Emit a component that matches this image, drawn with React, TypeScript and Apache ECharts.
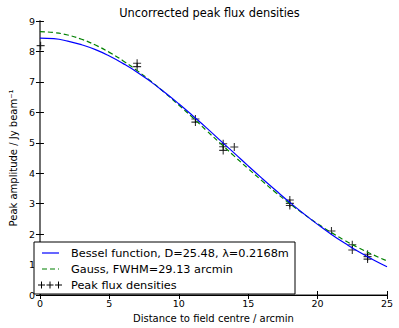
import React, { useEffect, useRef } from "react";
import * as echarts from "echarts";

const distances = [0,1,2,3,4,5,6,7,8,9,10,11,12,13,14,15,16,17,18,19,20,21,22,23,24,25];
const besselValues = [8.44,8.42,8.34,8.22,8.06,7.85,7.60,7.32,7.00,6.65,6.28,5.89,5.49,5.07,4.66,4.24,3.83,3.43,3.04,2.67,2.32,1.99,1.69,1.41,1.16,0.93];
const gaussValues = [8.65,8.62,8.54,8.40,8.21,7.97,7.69,7.37,7.02,6.64,6.24,5.83,5.40,4.98,4.56,4.15,3.75,3.36,3.00,2.66,2.34,2.05,1.78,1.54,1.32,1.12];
const peakX = [0.05,7.0,7.0,11.2,11.2,13.2,13.2,13.2,14.0,18.0,18.0,18.0,21.0,22.5,22.5,23.6,23.6,23.6];
const peakY = [8.19,7.61,7.50,5.78,5.68,4.97,4.87,4.75,4.86,3.12,3.01,2.94,2.10,1.65,1.48,1.34,1.26,1.18];
const xTicks = [0,5,10,15,20,25];
const yTicks = [0,1,2,3,4,5,6,7,8,9];

const titleText = "Uncorrected peak flux densities";
const legendLabels = ["Bessel function, D=25.48, λ=0.2168m", "Gauss, FWHM=29.13 arcmin", "Peak flux densities"];

const FONT = "DejaVu Sans";
const CROSS = "path://M0,5L10,5M5,0L5,10";
const SPINE = "#6a6a6a";

export default function App() {
  const ref = useRef<HTMLDivElement>(null);
  useEffect(() => {
    const chart = echarts.init(ref.current!, null, { renderer: "svg" });
    const cross = (cx: number, cy: number, s: number) => [
      { type: "line", shape: { x1: cx - s, y1: cy, x2: cx + s, y2: cy }, style: { stroke: "#000", lineWidth: 1 } },
      { type: "line", shape: { x1: cx, y1: cy - s, x2: cx, y2: cy + s }, style: { stroke: "#000", lineWidth: 1 } },
    ];
    const lx = 34, ly = 242;
    chart.setOption({
      animation: false,
      backgroundColor: "#fff",
      textStyle: { fontFamily: FONT },
      grid: { left: 32, right: 12, top: 21, bottom: 28, show: false },
      xAxis: [
        {
          type: "value", min: xTicks[0], max: xTicks[xTicks.length - 1], interval: 5,
          name: "Distance to field centre / arcmin", nameLocation: "middle", nameGap: 18,
          nameTextStyle: { fontSize: 10, color: "#000", fontFamily: FONT },
          axisLine: { show: true, lineStyle: { color: SPINE, width: 1.6 } },
          axisTick: { inside: true, length: 4, lineStyle: { color: "#000" } },
          axisLabel: { fontSize: 9.5, color: "#000", margin: 3, fontFamily: FONT },
          splitLine: { show: false },
        },
        {
          type: "value", position: "top", min: 0, max: 25, interval: 5,
          axisLine: { show: true, lineStyle: { color: "#000", width: 1 } },
          axisTick: { inside: true, length: 4, lineStyle: { color: "#000" } },
          axisLabel: { show: false }, splitLine: { show: false },
        },
      ],
      yAxis: [
        {
          type: "value", min: yTicks[0], max: yTicks[yTicks.length - 1], interval: 1,
          name: "Peak amplitude / Jy beam⁻¹", nameLocation: "middle", nameGap: 16,
          nameTextStyle: { fontSize: 10, color: "#000", fontFamily: FONT },
          axisLine: { show: true, lineStyle: { color: SPINE, width: 1.6 } },
          axisTick: { inside: true, length: 4, lineStyle: { color: "#000" } },
          axisLabel: { fontSize: 9.5, color: "#000", margin: 5, fontFamily: FONT },
          splitLine: { show: false },
        },
        {
          type: "value", position: "right", min: 0, max: 9, interval: 1,
          axisLine: { show: true, lineStyle: { color: SPINE, width: 1.6 } },
          axisTick: { inside: true, length: 4, lineStyle: { color: "#000" } },
          axisLabel: { show: false }, splitLine: { show: false },
        },
      ],
      series: [
        {
          type: "line", name: legendLabels[1], symbol: "none", smooth: true,
          data: distances.map((d, i) => [d, gaussValues[i]]),
          lineStyle: { color: "#008000", width: 1.2, type: [5, 3] },
        },
        {
          type: "line", name: legendLabels[0], symbol: "none", smooth: true,
          data: distances.map((d, i) => [d, besselValues[i]]),
          lineStyle: { color: "#0000ff", width: 1.2 },
        },
        {
          type: "scatter", name: legendLabels[2], symbol: CROSS, symbolSize: 8,
          data: peakX.map((x, i) => [x, peakY[i]]),
          itemStyle: { color: "none", borderColor: "#000", borderWidth: 1.1 },
          clip: false,
        },
      ],
      graphic: [
        { type: "text", x: 209.5, y: 13, style: { text: titleText, font: `11.4px ${FONT}`, fill: "#000", textAlign: "center", textVerticalAlign: "middle" } },
        { type: "rect", shape: { x: lx, y: ly, width: 261, height: 52 }, style: { fill: "#fff", stroke: "#000", lineWidth: 1 }, z: 100 },
        { type: "line", shape: { x1: 42, y1: 253, x2: 59, y2: 253 }, style: { stroke: "#0000ff", lineWidth: 1.2 }, z: 101 },
        { type: "line", shape: { x1: 42, y1: 269, x2: 59, y2: 269 }, style: { stroke: "#008000", lineWidth: 1.2, lineDash: [5, 3] }, z: 101 },
        ...[41.5, 50, 58.5].flatMap((cx) => cross(cx, 285, 3.5)).map((e) => ({ ...e, z: 101 })),
        ...legendLabels.map((t, i) => ({
          type: "text", x: 71, y: 253 + i * 16, z: 101,
          style: { text: t, font: `11.3px ${FONT}`, fill: "#000", textVerticalAlign: "middle" },
        })),
      ],
    });
    return () => chart.dispose();
  }, []);
  return <div ref={ref} style={{ width: 399, height: 328, position: "absolute", left: 0, top: 0 }} />;
}
